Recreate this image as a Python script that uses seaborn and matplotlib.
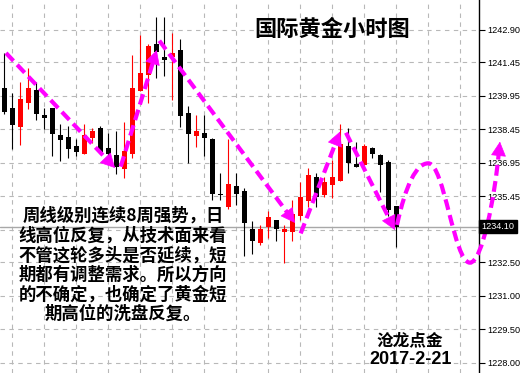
import numpy as np
import pandas as pd
import matplotlib
matplotlib.use("Agg")
import matplotlib.pyplot as plt
import matplotlib.transforms as mtransforms
from matplotlib.path import Path
from matplotlib.patches import PathPatch
import seaborn as sns

# ---------------- data (hourly gold candles) ----------------
opens = [1240.30, 1239.41, 1238.57, 1239.64, 1240.21, 1239.08, 1239.41, 1238.20, 1238.11, 1237.70,
         1237.36, 1238.08, 1238.50, 1237.62, 1237.30, 1236.69, 1237.36, 1240.17, 1240.88, 1242.27,
         1241.69, 1241.68, 1242.00, 1239.18, 1238.17, 1238.29, 1238.00, 1235.51, 1234.96, 1235.90,
         1235.69, 1233.97, 1233.37, 1234.09, 1234.38, 1233.87, 1233.87, 1234.58, 1235.25, 1236.32,
         1235.50, 1235.97, 1236.15, 1237.70, 1236.89, 1236.87, 1237.62, 1237.29, 1236.99, 1235.02]
highs = [1241.88, 1240.08, 1240.57, 1241.18, 1240.56, 1239.39, 1239.41, 1238.69, 1238.61, 1238.00,
         1238.69, 1238.51, 1238.59, 1238.29, 1238.38, 1238.78, 1241.79, 1242.69, 1242.29, 1243.48,
         1243.48, 1242.78, 1242.50, 1239.50, 1239.09, 1239.09, 1238.08, 1236.48, 1238.00, 1236.51,
         1235.84, 1234.35, 1234.17, 1234.79, 1234.39, 1234.15, 1235.30, 1236.11, 1236.72, 1236.51,
         1236.33, 1237.08, 1238.69, 1238.51, 1237.88, 1237.81, 1237.66, 1237.36, 1237.06, 1235.02]
lows = [1239.15, 1237.57, 1237.76, 1239.37, 1238.88, 1238.48, 1237.27, 1237.05, 1237.18, 1237.27,
        1237.36, 1237.85, 1237.40, 1237.26, 1236.47, 1236.29, 1237.18, 1240.17, 1239.63, 1240.75,
        1240.85, 1239.76, 1238.57, 1236.96, 1237.67, 1237.27, 1235.27, 1235.29, 1234.87, 1235.06,
        1232.79, 1232.87, 1233.27, 1233.60, 1233.46, 1232.45, 1233.46, 1234.39, 1234.99, 1234.99,
        1235.41, 1235.39, 1236.15, 1236.48, 1236.78, 1236.87, 1237.18, 1235.66, 1234.57, 1233.20]
closes = [1239.24, 1238.65, 1239.81, 1240.30, 1239.15, 1238.97, 1238.26, 1237.99, 1237.58, 1237.45,
          1238.20, 1238.38, 1237.45, 1237.35, 1236.78, 1237.48, 1240.30, 1240.97, 1242.18, 1241.91,
          1241.57, 1241.88, 1239.05, 1238.24, 1238.38, 1238.08, 1235.57, 1235.49, 1235.99, 1235.57,
          1234.27, 1233.46, 1233.97, 1234.51, 1233.97, 1233.99, 1234.67, 1235.42, 1236.41, 1235.41,
          1236.09, 1236.32, 1237.81, 1236.96, 1236.78, 1237.70, 1237.36, 1236.87, 1234.85, 1234.10]

ytick_values = [1242.90, 1241.45, 1239.95, 1238.45, 1236.95, 1235.45, 1233.95,
                1232.50, 1231.00, 1229.50, 1228.00]
hidden_tick = 1233.95  # label covered by the current-price box
top_cut_label = 1244.40
last_price = 1234.10

title_text = "国际黄金小时图"
comment_text = ("周线级别连续8周强势，日\n线高位反复，从技术面来看\n不管这轮多头是否延续，短\n"
                "期都有调整需求。所以方向\n的不确定，也确定了黄金短\n期高位的洗盘反复。")
author_text = "沧龙点金"
date_text = "2017-2-21"

# hand-drawn trend arrows (candle index, price)
arrow_x0 = [0.21, 14.55, 19.38, 37.05, 42.71]
arrow_y0 = [1241.87, 1236.78, 1242.42, 1233.79, 1238.30]
arrow_x1 = [13.84, 19.05, 36.34, 41.96, 48.84]
arrow_y1 = [1236.72, 1242.00, 1234.26, 1238.35, 1233.94]
# forecast wave: start, peak, trough, end
wave_x = [49.09, 53.0, 58.21, 61.96]
wave_y = [1234.17, 1236.93, 1232.48, 1237.90]

# ---------------- style ----------------
sns.set_theme(style="white")
plt.rcParams["font.family"] = ["Noto Sans CJK SC", "DejaVu Sans"]
MAG = "#ff00ff"

W, H = 523, 373
fig = plt.figure(figsize=(W / 100, H / 100), dpi=100)
fig.patch.set_facecolor("white")
ax = fig.add_axes([0, 0, 479 / W, 1])
ax.set_facecolor("white")

df = pd.DataFrame({"o": opens, "h": highs, "l": lows, "c": closes})
df["x"] = np.arange(len(df))
colors = np.where(df["c"] >= df["o"], "#ff0000", "#000000")

ax.vlines(df["x"], df["l"], df["h"], colors=colors, lw=0.8, zorder=3)
bottom = np.minimum(df["o"], df["c"])
height = np.maximum(np.abs(df["c"] - df["o"]), 0.06)
ax.bar(df["x"], height, bottom=bottom, width=0.62, color=colors, linewidth=0, zorder=3)

ax.set_xlim(-0.54, 59.34)
ax.set_ylim(1227.54, 1244.243)

# grid
ax.set_xticks(np.arange(1, 58, 4))
ax.set_xticklabels([])
ax.set_yticks(ytick_values)
ax.set_yticklabels(["" if v == hidden_tick else f"{v:.2f}" for v in ytick_values])
ax.yaxis.tick_right()
ax.grid(True, color="#b8b8b8", lw=0.8, ls=(0, (4, 4)))
ax.set_axisbelow(True)
ax.tick_params(axis="x", length=0)
ax.tick_params(axis="y", length=4, width=0.8, color="black", labelsize=6.6,
               labelcolor="black", pad=2, right=True, left=False)
for lab in ax.get_yticklabels():
    lab.set_family(["Liberation Sans", "DejaVu Sans"])
for s in ["left", "top", "bottom"]:
    ax.spines[s].set_visible(False)
ax.spines["right"].set_color("black")
ax.spines["right"].set_linewidth(1.0)

# current price line and label
ax.axhline(last_price, color="#a8a8a8", lw=1.0, zorder=1)
trans = mtransforms.blended_transform_factory(ax.transAxes, ax.transData)
ax.annotate(f"{last_price:.2f}", xy=(1.0, last_price), xycoords=trans,
            xytext=(2.0, 0), textcoords="offset points", ha="left", va="center",
            color="white", fontsize=6.6, family=["Liberation Sans", "DejaVu Sans"],
            bbox=dict(boxstyle="square,pad=0.25", fc="black", ec="black"),
            annotation_clip=False, zorder=10)
ax.annotate(f"{top_cut_label:.2f}", xy=(1.0, top_cut_label), xycoords=trans,
            xytext=(5, 0), textcoords="offset points", ha="left", va="center",
            color="black", fontsize=6.6, family=["Liberation Sans", "DejaVu Sans"],
            annotation_clip=False)

# arrows
fig.canvas.draw()


def head(x0, y0, x1, y1):
    # arrowhead at (x1, y1) pointing from (x0, y0)
    p0 = ax.transData.transform((x0, y0))
    p1 = ax.transData.transform((x1, y1))
    d = (p1 - p0) / np.hypot(*(p1 - p0))
    back = ax.transData.inverted().transform(p1 - d * 11)
    ax.annotate("", xy=(x1, y1), xytext=tuple(back),
                arrowprops=dict(arrowstyle="-|>,head_length=0.95,head_width=0.5",
                                color=MAG, lw=0.5, mutation_scale=10,
                                shrinkA=0, shrinkB=0),
                annotation_clip=False, zorder=6)
    return tuple(back)


for x0, y0, x1, y1 in zip(arrow_x0, arrow_y0, arrow_x1, arrow_y1):
    bx, by = head(x0, y0, x1, y1)
    ax.plot([x0, bx], [y0, by], color=MAG, lw=3, ls=(0, (2.6, 1.3)),
            solid_capstyle="butt", zorder=5)

# forecast wave
S = (wave_x[0], wave_y[0]); P = (wave_x[1], wave_y[1])
T = (wave_x[2], wave_y[2]); E = (wave_x[3], wave_y[3])
pre = (E[0] - 0.35, E[1] - 1.2)
bx, by = head(pre[0], pre[1], E[0], E[1])
verts = [S, (S[0] + 1.1, S[1] + 1.8), (P[0] - 1.5, P[1]), P,
         (P[0] + 2.0, P[1]), (T[0] - 2.0, T[1]), T,
         (T[0] + 1.5, T[1]), (bx - 0.5, by - 2.0), (bx, by)]
codes = [Path.MOVETO] + [Path.CURVE4] * 9
patch = PathPatch(Path(verts, codes), fill=False, ec=MAG, lw=3,
                  ls=(0, (2.6, 1.3)), clip_on=False, zorder=5)
patch.set_capstyle("butt")
ax.add_patch(patch)

# texts
fig.text(332.5 / W, 1 - 29 / H, title_text, ha="center", va="center",
         fontsize=16, fontweight="bold", color="black")
fig.text(123 / W, 1 - 265 / H, comment_text, ha="center", va="center",
         multialignment="center", fontsize=12.5, fontweight="bold",
         linespacing=1.12, color="black")
fig.text(410 / W, 1 - 340 / H, author_text, ha="center", va="center",
         fontsize=12, fontweight="bold", color="black")
fig.text(411 / W, 1 - 360 / H, date_text, ha="center", va="center",
         fontsize=13, fontweight="bold", color="black",
         family=["Liberation Sans", "DejaVu Sans"])

fig.savefig("out.png", dpi=100, facecolor="white")
